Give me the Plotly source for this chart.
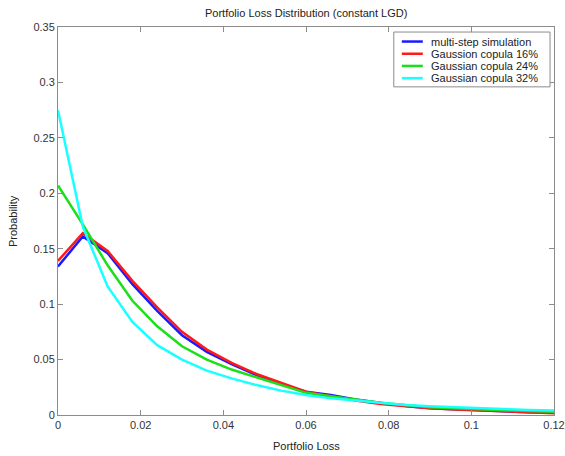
import plotly.graph_objects as go

loss = [0, 0.006, 0.012, 0.018, 0.024, 0.030, 0.036, 0.042, 0.048, 0.054, 0.060,
        0.066, 0.072, 0.078, 0.084, 0.090, 0.096, 0.102, 0.108, 0.114, 0.120]

multi_step = [0.134, 0.161, 0.146, 0.118, 0.094, 0.072, 0.057, 0.046, 0.036, 0.028, 0.021,
              0.018, 0.014, 0.011, 0.008, 0.006, 0.005, 0.004, 0.003, 0.0025, 0.002]
gauss_16 = [0.139, 0.164, 0.148, 0.121, 0.097, 0.075, 0.059, 0.047, 0.037, 0.029, 0.021,
            0.017, 0.013, 0.010, 0.008, 0.006, 0.005, 0.004, 0.003, 0.002, 0.0015]
gauss_24 = [0.207, 0.172, 0.135, 0.103, 0.080, 0.062, 0.050, 0.041, 0.034, 0.027, 0.020,
            0.017, 0.014, 0.011, 0.009, 0.007, 0.006, 0.005, 0.004, 0.0035, 0.003]
gauss_32 = [0.275, 0.170, 0.116, 0.084, 0.063, 0.050, 0.040, 0.033, 0.027, 0.022, 0.018,
            0.015, 0.013, 0.011, 0.009, 0.008, 0.007, 0.006, 0.005, 0.0045, 0.004]

series_names = ["multi-step simulation", "Gaussion copula 16%",
                "Gaussian copula 24%", "Gaussian copula 32%"]
series_values = [multi_step, gauss_16, gauss_24, gauss_32]
series_colors = ["#1a1aff", "#ff1a1a", "#1adf1a", "#1affff"]

x_ticks = [0, 0.02, 0.04, 0.06, 0.08, 0.1, 0.12]
y_ticks = [0, 0.05, 0.1, 0.15, 0.2, 0.25, 0.3, 0.35]

FONT = "Liberation Sans, Arial, sans-serif"
fig = go.Figure()
for name, vals, col in zip(series_names, series_values, series_colors):
    fig.add_trace(go.Scatter(x=loss, y=vals, mode="lines", name=name,
                             line=dict(color=col, width=2.5), showlegend=False))

axis_common = dict(showgrid=False, zeroline=False, showline=True, linecolor="#8c8c8c",
                   linewidth=1, mirror="ticks", ticks="inside", ticklen=5, automargin=False,
                   tickcolor="#8c8c8c", tickfont=dict(family=FONT, size=11, color="#333"))
fig.update_xaxes(range=[0, 0.12], tickvals=x_ticks,
                 ticktext=[f"{v:g}" for v in x_ticks], **axis_common)
fig.update_yaxes(range=[0, 0.35], tickvals=y_ticks,
                 ticktext=[f"{v:g}" for v in y_ticks], **axis_common)

# custom legend box (paper coords)
lx0, lx1, ly1 = 0.677, 0.992, 0.987
row_h = 12.2 / 388
ly0 = ly1 - (4 * row_h + 6 / 388)
fig.add_shape(type="rect", xref="paper", yref="paper", x0=lx0, x1=lx1, y0=ly0, y1=ly1,
              line=dict(color="#8c8c8c", width=1), fillcolor="white", layer="above")
for i, (name, col) in enumerate(zip(series_names, series_colors)):
    yc = ly1 - (9.5 / 388) - i * row_h
    fig.add_shape(type="line", xref="paper", yref="paper",
                  x0=lx0 + 8 / 496, x1=lx0 + 29 / 496, y0=yc, y1=yc,
                  line=dict(color=col, width=2.5), layer="above")
    fig.add_annotation(xref="paper", yref="paper", x=lx0 + 35 / 496, y=yc, text=name,
                       showarrow=False, xanchor="left", yanchor="middle",
                       font=dict(family=FONT, size=11, color="#222"))

fig.add_annotation(xref="paper", yref="paper", x=0.5, y=1, yshift=14,
                   text="Portfolio Loss Distribution (constant LGD)", showarrow=False,
                   xanchor="center", yanchor="middle",
                   font=dict(family=FONT, size=11, color="#222"))
fig.add_annotation(xref="paper", yref="paper", x=0.5, y=0, yshift=-31,
                   text="Portfolio Loss", showarrow=False, xanchor="center", yanchor="middle",
                   font=dict(family=FONT, size=11, color="#222"))
fig.add_annotation(xref="paper", yref="paper", x=0, y=0.5, xshift=-45,
                   text="Probability", showarrow=False, textangle=-90,
                   xanchor="center", yanchor="middle",
                   font=dict(family=FONT, size=11, color="#222"))

fig.update_layout(width=565, height=456, margin=dict(l=58, r=11, t=27, b=41),
                  paper_bgcolor="white", plot_bgcolor="white", showlegend=False)
fig.write_html("out.html", config={"displayModeBar": False},
               post_script="document.body.style.margin='0';"
                           "document.documentElement.style.overflow='hidden';")
